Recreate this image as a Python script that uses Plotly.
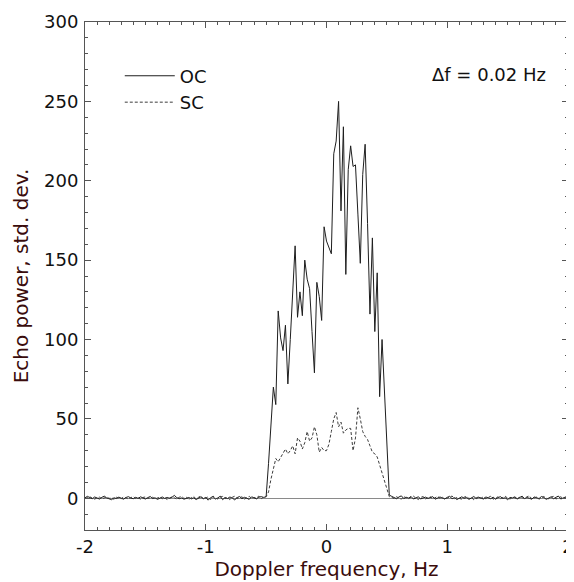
import numpy as np
import plotly.graph_objects as go

# ---- data ----
df_hz = 0.02
oc_left = [0.3, 1.2, 0.4, -0.3, 0.8, 0.1, -0.5, 0.6, 1.3, 0.2, -0.4, -0.9, 0.3, -0.2, 0.7,
           0.0, -0.6, 0.5, 1.0, 0.1, -0.3, 0.6, -0.1, 0.9, 0.2, -0.5, 0.4, 1.1, -0.2, 0.3,
           -0.7, 0.2, 0.8, -0.1, 0.5, 0.0, 0.6, 1.8, 0.4, -0.3, 0.2, -0.6, 0.1, 0.5, -0.4,
           0.3, -0.8, 0.2, 0.9, -0.3, 0.6, -1.2, 0.4, 1.0, -0.5, 0.2, 1.3, -0.9, 0.5, -0.2,
           0.8, 0.1, -1.0, 0.4, 1.1, -0.3, 0.6, 0.0, -0.7, 0.9, 0.2, -0.4, 0.7, 1.0, 0.5]
oc_signal = [1, 22, 45, 70, 59, 118, 101, 93, 109, 72, 100, 130, 159,
             114, 130, 115, 150, 138, 132, 105, 79, 136, 127, 112, 171, 162,
             158, 154, 217, 225, 250, 181, 234, 141, 207, 222, 209, 210, 179,
             148, 204, 223, 173, 116, 164, 105, 142, 64, 100, 67, 30, 2]
oc_right = [1.2, 0.4, -0.3, 0.8, 1.5, -0.2, 0.6, 0.1, 1.1, -0.5, 0.3, 0.9, -0.4, 0.2, 0.7,
            -0.1, 0.5, 1.0, -0.6, 0.3, 0.8, 0.1, -0.4, 0.6, 1.2, -0.3, 0.4, -0.8, 0.2, 0.9,
            0.0, 0.5, -0.7, 0.3, 1.1, -0.2, 0.6, 0.1, -0.5, 0.8, 0.2, -0.3, 0.7, -0.6, 0.4,
            1.0, -0.1, 0.3, -0.9, 0.5, 0.2, 0.9, -0.4, 0.6, 1.3, -0.2, 0.4, 0.0, -0.6, 0.8,
            0.3, -0.2, 1.1, 0.5, -0.7, 0.2, 0.9, -0.3, 0.6, 1.4, -0.5, 0.3, 0.8, 0.1]

sc_left = [-0.2, 0.5, 0.9, 0.1, -0.6, 0.3, 0.7, -0.4, 0.2, 0.8, -0.1, 0.4, -0.7, 0.6, 0.2,
           -0.3, 0.9, 0.1, -0.5, 0.4, 1.0, -0.2, 0.3, -0.6, 0.5, 0.8, -0.1, 0.2, 0.6, -0.4,
           0.1, 0.7, -0.3, 0.4, -0.8, 0.2, 0.9, 0.3, -0.5, 0.6, 1.2, -0.2, 0.8, -1.0, 0.4,
           1.1, -0.4, 0.6, 1.5, -0.6, 0.3, 0.9, -0.8, 1.4, 0.2, -0.5, 0.7, 1.2, -0.3, 0.5,
           -0.9, 0.6, 1.3, -0.2, 0.4, 0.9, -0.6, 0.3, 1.2, -0.1, 0.5, 0.2, 1.4, -0.3, 0.8]
sc_signal = [1, 4, 12, 19, 25, 23, 26, 29, 31, 28, 30, 33, 28,
             38, 36, 31, 35, 42, 36, 38, 45, 40, 29, 32, 30, 30,
             34, 42, 50, 54, 45, 48, 41, 43, 44, 44, 30, 38, 57,
             50, 42, 39, 37, 33, 29, 28, 26, 21, 16, 11, 5, 1]
sc_right = [0.6, -0.2, 0.9, 0.3, -0.6, 1.0, 0.2, -0.3, 0.7, 1.3, 0.1, -0.8, 0.5, 1.1, -0.4,
            0.4, 0.9, -0.5, 0.2, 1.2, -0.1, 0.6, -0.7, 0.3, 0.8, 1.4, -0.3, 0.5, 0.1, -0.6,
            0.7, 1.1, -0.2, 0.4, -0.9, 0.3, 0.8, 0.0, 1.0, -0.4, 0.5, 1.3, -0.6, 0.2, 0.9,
            -0.3, 0.6, 1.2, 0.1, -0.5, 0.7, 0.3, -0.8, 1.0, 0.4, -0.2, 0.9, 1.5, -0.4, 0.2,
            0.8, -0.6, 0.4, 1.1, 0.0, -0.3, 0.7, 1.2, -0.5, 0.3, 0.9, -0.1, 0.5, 0.2]

oc = oc_left + oc_signal + oc_right
sc = sc_left + sc_signal + sc_right
freq = np.round(-2.0 + df_hz * np.arange(len(oc)), 2)

x_ticks = [-2, -1, 0, 1, 2]
x_tick_labels = ["-2", "-1", "0", "1", "2"]
y_ticks = [0, 50, 100, 150, 200, 250, 300]

FONT = "DejaVu Sans"
TITLE_COLOR = "#3a0c0c"

fig = go.Figure()
fig.add_trace(go.Scatter(x=freq, y=oc, mode="lines", name="OC",
                         line=dict(color="#1e1e1e", width=1)))
fig.add_trace(go.Scatter(x=freq, y=sc, mode="lines", name="SC",
                         line=dict(color="#3c3c3c", width=1, dash="3px,2px")))

axis_common = dict(
    showline=True, linecolor="#555", linewidth=1, mirror="allticks",
    ticks="inside", ticklen=6, tickcolor="#555", tickwidth=1,
    showgrid=False, automargin=False,
    tickfont=dict(family=FONT, size=18, color="#111"),
)

fig.update_xaxes(
    range=[-2, 2], tickvals=x_ticks, ticktext=x_tick_labels, zeroline=False,
    minor=dict(ticks="inside", ticklen=3, dtick=0.1, tickcolor="#555", showgrid=False),
    title=dict(text="Doppler frequency, Hz", font=dict(family=FONT, size=20, color=TITLE_COLOR),
               standoff=4),
    **axis_common,
)
fig.update_yaxes(
    range=[-20, 300], tickvals=y_ticks, zeroline=True, zerolinecolor="#8a8a8a", zerolinewidth=1,
    minor=dict(ticks="inside", ticklen=3, dtick=10, tickcolor="#555", showgrid=False),
    title=dict(text="Echo power, std. dev.", font=dict(family=FONT, size=20, color=TITLE_COLOR),
               standoff=10),
    ticklabelstandoff=2,
    **axis_common,
)

fig.add_annotation(x=0.958, y=0.896, xref="paper", yref="paper", xanchor="right", yanchor="middle",
                   text="Δf = 0.02 Hz", showarrow=False,
                   font=dict(family=FONT, size=18, color="#111"))

# the page body adds an 8px offset, so the figure is 8px smaller than the window
fig.update_layout(
    width=566, height=574,
    margin=dict(l=77, r=6, t=14, b=52),
    paper_bgcolor="white", plot_bgcolor="white",
    showlegend=True,
    legend=dict(x=0.072, y=0.93, xanchor="left", yanchor="top",
                bgcolor="rgba(0,0,0,0)", font=dict(family=FONT, size=18, color="#111"),
                tracegroupgap=0, itemwidth=50),
)

fig.write_html("out.html")
